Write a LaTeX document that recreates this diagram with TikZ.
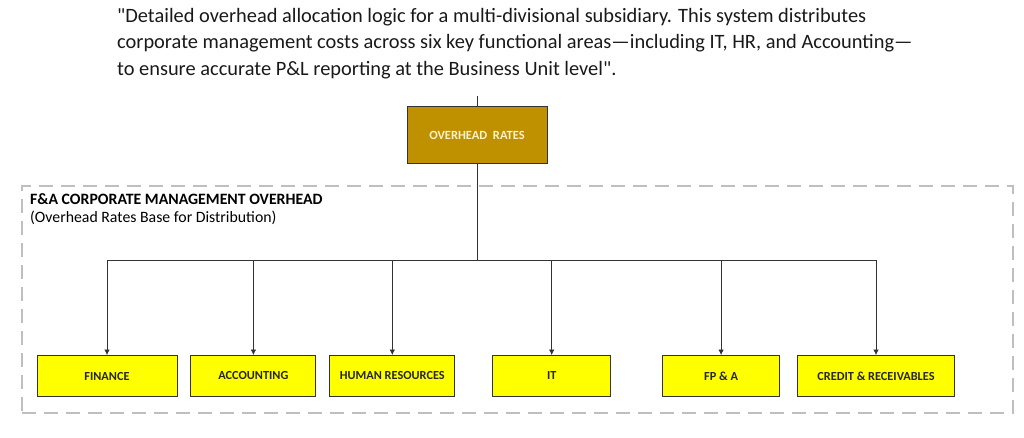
\documentclass[tikz,border=0pt]{standalone}
\usepackage{fontspec}
\setmainfont{Carlito}[Ligatures=TeXOff]
\usetikzlibrary{arrows.meta,positioning}

\definecolor{ratesgold}{HTML}{BF9000}
\definecolor{ratestext}{HTML}{FFF2CC}
\definecolor{unityellow}{HTML}{FFFF00}
\definecolor{framegray}{HTML}{BFBFBF}

\begin{document}
\begin{tikzpicture}[x=1pt,y=-1pt,>={Latex[length=5.5pt,width=5.5pt]},node distance=13pt,
	unit/.style={draw=black!80,fill=unityellow,line width=0.9pt,minimum height=41pt,inner sep=0pt,
		font=\fontsize{12.3}{14}\selectfont\bfseries,text=black!85},
	feed/.style={draw=black!80,line width=0.7pt}]
	\useasboundingbox (0,0) rectangle (1024,437);
	% caption
	\node[anchor=north west,inner sep=0pt,align=left,font=\fontsize{20.4}{26.5}\selectfont,text=black!90] (caption) at (117,8)
		{"Detailed overhead allocation logic for a multi-divisional subsidiary. This system distributes\\
		corporate management costs across six key functional areas—including IT, HR, and Accounting—\\
		to ensure accurate P\&L reporting at the Business Unit level".};
	% top of the tree
	\coordinate (stub) at (477,96);
	\node[draw=black!80,fill=ratesgold,line width=0.9pt,minimum width=140pt,minimum height=57pt,
		font=\fontsize{12.5}{14}\selectfont\bfseries,text=ratestext] (rates) at (477,135) {OVERHEAD\ \ RATES};
	% dashed group frame
	\node[draw=framegray,line width=2pt,dash pattern=on 14pt off 8pt,minimum width=991pt,minimum height=227pt,
		inner sep=0pt] (frame) at (517.5,299.5) {};
	\node[anchor=base west,inner sep=0pt,font=\fontsize{15.8}{18}\selectfont\bfseries] (grouplabel) at (30,204)
		{F\&A CORPORATE MANAGEMENT OVERHEAD};
	\node[anchor=base west,inner sep=0pt,font=\fontsize{15.8}{18}\selectfont] (groupsub) at (30,222)
		{(Overhead Rates Base for Distribution)};
	% functional areas
	\node[unit,minimum width=140pt] (fin) at (107,376) {FINANCE};
	\node[unit,minimum width=125pt] [right=of fin] (acc) {ACCOUNTING};
	\node[unit,minimum width=125pt] [right=of acc] (hr) {HUMAN RESOURCES};
	\node[unit,minimum width=118pt] [right=37pt of hr] (it) {IT};
	\node[unit,minimum width=117pt] [right=51pt of it] (fpa) {FP \& A};
	\node[unit,minimum width=157pt] [right=17pt of fpa] (cred) {CREDIT \& RECEIVABLES};
	% distribution lines
	\coordinate (split) at (477,260);
	\draw[feed] (stub) -- (rates);
	\draw[feed] (rates) -- (split);
	\foreach \u in {fin,acc,hr,it,fpa,cred}
		\draw[feed,->] (split) -| (\u);
\end{tikzpicture}
\end{document}
